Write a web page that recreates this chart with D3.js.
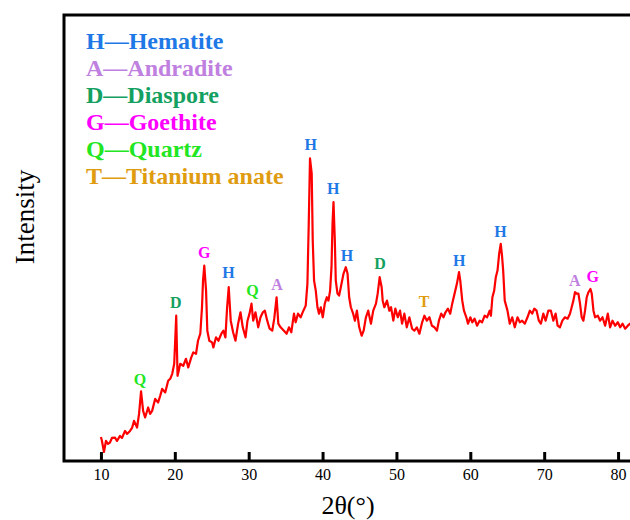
<!DOCTYPE html>
<html>
<head>
<meta charset="utf-8">
<script src="https://cdn.jsdelivr.net/npm/d3@7"></script>
<style>
  html, body { margin: 0; padding: 0; background: #fff; }
  svg { display: block; }
  svg text { font-family: "Liberation Serif", "Times New Roman", "DejaVu Serif", serif; }
</style>
</head>
<body>
<svg id="chart" width="630" height="520"></svg>
<script>
// XRD pattern: diffraction angle (2θ, degrees) and intensity (counts)
const twoTheta = [10.00,10.14,10.41,10.68,10.95,11.22,11.49,11.90,12.17,12.58,12.85,13.26,13.53,13.94,14.21,14.48,14.89,15.16,15.43,15.71,15.98,16.39,16.66,16.93,17.34,17.74,18.02,18.29,18.70,19.10,19.38,19.65,19.92,20.05,20.19,20.37,20.53,20.73,21.14,21.51,21.82,22.23,22.50,22.87,23.14,23.45,23.68,23.82,23.99,24.23,24.40,24.67,25.04,25.22,25.58,25.90,26.30,26.58,26.85,27.08,27.30,27.57,27.89,28.21,28.57,28.89,29.20,29.57,29.84,30.11,30.38,30.61,30.92,31.29,31.60,31.92,32.19,32.51,32.83,33.19,33.46,33.78,34.01,34.32,34.77,35.14,35.45,35.77,36.13,36.36,36.67,37.04,37.40,37.72,37.95,38.13,38.30,38.53,38.67,38.85,39.08,39.31,39.52,39.76,40.03,40.30,40.57,40.80,41.02,41.21,41.35,41.48,41.66,41.79,42.02,42.24,42.47,42.84,43.15,43.38,43.60,43.83,44.14,44.38,44.65,44.96,45.29,45.56,45.87,46.18,46.55,46.86,47.23,47.46,47.73,48.00,48.14,48.36,48.72,49.04,49.27,49.58,49.85,50.18,50.49,50.76,51.07,51.40,51.75,52.12,52.43,52.76,53.11,53.48,53.79,54.12,54.47,54.80,55.15,55.48,55.75,56.06,56.37,56.64,56.97,57.28,57.55,57.87,58.19,58.47,58.64,58.91,59.14,59.46,59.69,60.00,60.27,60.58,60.91,61.26,61.59,61.94,62.27,62.62,62.79,62.99,63.23,63.45,63.68,63.91,64.12,64.29,64.45,64.66,65.03,65.34,65.67,66.02,66.39,66.70,67.02,67.38,67.74,68.06,68.38,68.66,68.97,69.28,69.55,69.88,70.19,70.56,70.91,71.24,71.55,71.82,72.13,72.46,72.81,73.17,73.49,73.72,73.95,74.17,74.40,74.63,74.85,75.08,75.31,75.53,75.76,75.99,76.26,76.44,76.67,76.89,77.26,77.57,77.89,78.25,78.61,78.92,79.25,79.60,79.97,80.28,80.61,80.96,81.32,81.64,81.87];

const intensity = [120,100,45,100,85,92,115,117,100,125,115,150,135,150,165,200,167,235,347,250,217,267,235,250,310,292,325,360,342,400,410,435,485,600,725,425,450,485,475,510,467,517,542,535,600,635,767,900,975,850,650,600,592,567,617,600,635,650,617,767,867,700,642,600,685,742,667,617,700,735,785,700,742,667,717,742,750,700,660,650,710,817,685,667,650,635,667,642,735,692,735,717,750,775,885,1185,1510,1435,1100,900,850,767,735,767,717,785,817,800,850,967,1185,1292,1100,900,835,825,867,935,967,935,817,767,735,700,750,667,625,650,717,750,685,750,785,835,917,867,800,767,800,750,767,700,760,717,750,685,735,667,717,660,650,667,635,692,725,700,717,675,667,650,700,735,717,742,760,735,785,835,885,942,900,800,750,717,685,717,692,710,675,700,692,725,717,750,725,817,850,917,950,1035,1083,1025,950,800,750,685,717,667,717,692,700,685,717,750,735,760,750,700,685,735,700,750,750,700,735,675,667,700,717,710,735,767,800,842,835,835,785,717,700,750,817,842,858,835,750,717,725,700,717,675,735,667,700,675,692,667,685,660,675,685,675];

// Phase identification marks: letter, 2θ position and label height (counts)
const peakLetters = ["Q","D","G","H","Q","A","H","H","H","D","T","H","H","A","G"];
const peakTheta   = [15.30,20.12,23.99,27.26,30.52,33.85,38.40,41.45,43.29,47.77,53.75,58.51,64.08,74.13,76.58];
const peakLevel   = [380,765,1015,915,825,855,1550,1330,1000,960,770,975,1115,875,895];

// Phases
const phaseCodes = ["H","A","D","G","Q","T"];
const phaseNames = ["Hematite","Andradite","Diaspore","Goethite","Quartz","Titanium anate"];

const xTicks = [10,20,30,40,50,60,70,80];
const xDomain = [5,85];
const yDomain = [0,2225];

const phaseColor = d3.scaleOrdinal()
  .domain(phaseCodes)
  .range(["#1e78e6","#c080e0","#13a060","#ff00ff","#22e622","#e09c10"]);

const svg = d3.select("#chart");

const plotLeft = 64, plotTop = 15, plotBottom = 461, plotRight = 655;

const x = d3.scaleLinear().domain(xDomain).range([plotLeft, plotRight]);
const y = d3.scaleLinear().domain(yDomain).range([plotBottom, plotTop]);

// Diffraction curve
const points = d3.zip(twoTheta, intensity);
const line = d3.line().x(d => x(d[0])).y(d => y(d[1]));
svg.append("path")
  .datum(points)
  .attr("d", line)
  .attr("fill", "none")
  .attr("stroke", "#ff0000")
  .attr("stroke-width", 2.2)
  .attr("stroke-linejoin", "round");

// Bottom axis with inward ticks
const xAxis = d3.axisBottom(x)
  .tickValues(xTicks)
  .tickFormat(d3.format("d"))
  .tickSizeInner(-9)
  .tickSizeOuter(0)
  .tickPadding(8);
const gx = svg.append("g")
  .attr("transform", `translate(0,${plotBottom})`)
  .call(xAxis)
  .attr("font-family", null)
  .attr("font-size", null);
gx.select(".domain").remove();
gx.selectAll(".tick line").attr("stroke", "#000").attr("stroke-width", 3);
gx.selectAll(".tick text")
  .attr("fill", "#000")
  .attr("font-size", 16);

// Frame
svg.append("rect")
  .attr("x", plotLeft).attr("y", plotTop)
  .attr("width", plotRight - plotLeft).attr("height", plotBottom - plotTop)
  .attr("fill", "none")
  .attr("stroke", "#000")
  .attr("stroke-width", 3);

// Axis titles
svg.append("text")
  .attr("x", 348).attr("y", 514)
  .attr("text-anchor", "middle")
  .attr("font-size", 26)
  .text("2θ(°)");

svg.append("text")
  .attr("transform", "translate(34,217) rotate(-90)")
  .attr("text-anchor", "middle")
  .attr("font-size", 27)
  .text("Intensity");

// Peak labels
svg.append("g").selectAll("text")
  .data(d3.zip(peakLetters, peakTheta, peakLevel))
  .join("text")
  .attr("x", d => x(d[1]))
  .attr("y", d => y(d[2]))
  .attr("text-anchor", "middle")
  .attr("fill", d => phaseColor(d[0]))
  .attr("font-weight", "bold")
  .attr("font-size", 16)
  .text(d => d[0]);

// Legend
svg.append("g").selectAll("text")
  .data(d3.zip(phaseCodes, phaseNames))
  .join("text")
  .attr("x", 86)
  .attr("y", (d, i) => 49 + i * 27)
  .attr("fill", d => phaseColor(d[0]))
  .attr("font-weight", "bold")
  .attr("font-size", 24)
  .text(d => `${d[0]}—${d[1]}`);
</script>
</body>
</html>
